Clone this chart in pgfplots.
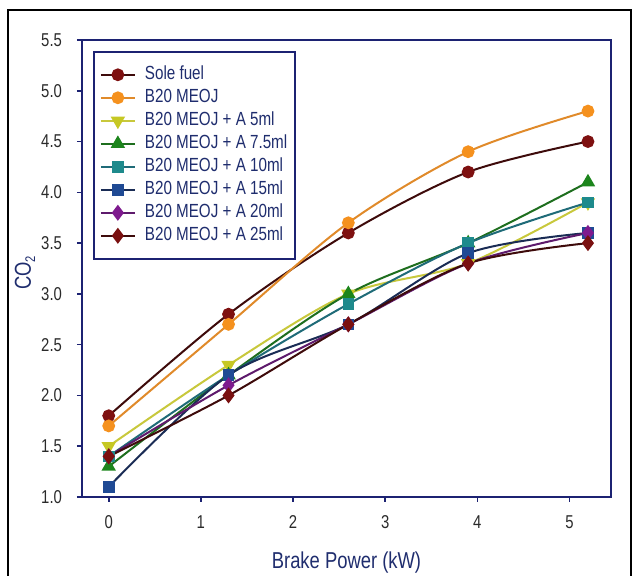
\documentclass[border=0pt]{standalone}
\usepackage{pgfplots}
\pgfplotsset{compat=1.18}
\usepackage{fontspec}
\setmainfont{Liberation Sans}[FakeStretch=0.8]
\definecolor{navy}{HTML}{1C2272}
\definecolor{lbl}{HTML}{1F2D6E}
\definecolor{tk}{HTML}{2A2A2A}
\definecolor{c1l}{HTML}{3E0B0B}\definecolor{c1m}{HTML}{7E1010}
\definecolor{c2l}{HTML}{E08A2A}\definecolor{c2m}{HTML}{F5911E}
\definecolor{c3l}{HTML}{C8C83C}\definecolor{c3m}{HTML}{C6C824}
\definecolor{c4l}{HTML}{1E6E1E}\definecolor{c4m}{HTML}{1C851C}
\definecolor{c5l}{HTML}{1F6B78}\definecolor{c5m}{HTML}{1E8A8C}
\definecolor{c6l}{HTML}{1A2C55}\definecolor{c6m}{HTML}{1F4A94}
\definecolor{c7l}{HTML}{5E1A6C}\definecolor{c7m}{HTML}{7E1A8E}
\definecolor{c8l}{HTML}{3E0B0B}\definecolor{c8m}{HTML}{7A1010}
\begin{document}
\begin{tikzpicture}
\path[use as bounding box] (0,0) rectangle (316.5pt,288pt);
\draw[black,line width=1pt] (4pt,0) -- (4pt,283pt) -- (315.5pt,283pt) -- (315.5pt,0);
\begin{axis}[
  at={(41pt,39.5pt)}, anchor=south west,
  width=264.5pt, height=228.5pt, scale only axis,
  xmin=-0.29, xmax=5.45, ymin=1, ymax=5.5,
  xtick={0,1,2,3,4,5}, ytick={1,1.5,2,2.5,3,3.5,4,4.5,5,5.5},
  xtick pos=bottom, ytick pos=left,
  tick align=outside, major tick length=2.5pt,
  axis line style={navy,line width=0.9pt},
  every tick/.style={navy,line width=0.8pt},
  /pgf/number format/assume math mode=true,
  yticklabel style={/pgf/number format/fixed,/pgf/number format/fixed zerofill,/pgf/number format/precision=1},
  tick label style={font=\fontsize{9.3}{11}\selectfont,text=tk},
  xticklabel style={anchor=center,yshift=-10pt},
  yticklabel style={anchor=east,xshift=-4pt},
  xlabel={Brake Power (kW)},
  ylabel={CO\raisebox{-0.35ex}{\fontsize{7}{8}\selectfont 2}},
  every axis x label/.style={at={(axis description cs:0.5,0)},anchor=center,yshift=-33pt,font=\fontsize{11.5}{13}\selectfont,text=lbl},
  every axis y label/.style={at={(axis description cs:-0.1077,0.49)},anchor=center,rotate=90,font=\fontsize{11.5}{13}\selectfont,text=lbl},
  legend style={at={(axis description cs:0.0208,0.976)},anchor=north west,
    draw=navy,line width=0.8pt,fill=white,inner xsep=3pt,inner ysep=6.5pt,
    font=\fontsize{9.5}{11}\selectfont,text=lbl,row sep=1.5pt,column sep=3.5pt,
    nodes={inner sep=1pt,text height=6.5pt,text depth=1.5pt}},
  legend cell align=left,
  every axis plot/.append style={line width=1pt,smooth},
]
\addplot[c1l,mark=*,mark size=2.7pt,mark options={fill=c1m,draw=c1m}] coordinates {(0,1.8)(1.3,2.8)(2.6,3.6)(3.9,4.2)(5.2,4.5)};
\addlegendentry{Sole fuel}
\addplot[c2l,mark=*,mark size=2.7pt,mark options={fill=c2m,draw=c2m}] coordinates {(0,1.7)(1.3,2.7)(2.6,3.7)(3.9,4.4)(5.2,4.8)};
\addlegendentry{B20 MEOJ}
\addplot[c3l,mark=triangle*,mark size=3.2pt,mark options={fill=c3m,draw=c3m,rotate=180}] coordinates {(0,1.5)(1.3,2.3)(2.6,3.0)(3.9,3.3)(5.2,3.9)};
\addlegendentry{B20 MEOJ + A 5ml}
\addplot[c4l,mark=triangle*,mark size=3.2pt,mark options={fill=c4m,draw=c4m}] coordinates {(0,1.3)(1.3,2.2)(2.6,3.0)(3.9,3.5)(5.2,4.1)};
\addlegendentry{B20 MEOJ + A 7.5ml}
\addplot[c5l,mark=square*,mark size=2.4pt,mark options={fill=c5m,draw=c5m}] coordinates {(0,1.4)(1.3,2.2)(2.6,2.9)(3.9,3.5)(5.2,3.9)};
\addlegendentry{B20 MEOJ + A 10ml}
\addplot[c6l,mark=square*,mark size=2.4pt,mark options={fill=c6m,draw=c6m}] coordinates {(0,1.1)(1.3,2.2)(2.6,2.7)(3.9,3.4)(5.2,3.6)};
\addlegendentry{B20 MEOJ + A 15ml}
\addplot[c7l,mark=diamond*,mark size=3.2pt,mark options={fill=c7m,draw=c7m}] coordinates {(0,1.4)(1.3,2.1)(2.6,2.7)(3.9,3.3)(5.2,3.6)};
\addlegendentry{B20 MEOJ + A 20ml}
\addplot[c8l,mark=diamond*,mark size=3.2pt,mark options={fill=c8m,draw=c8m}] coordinates {(0,1.4)(1.3,2.0)(2.6,2.7)(3.9,3.3)(5.2,3.5)};
\addlegendentry{B20 MEOJ + A 25ml}
\end{axis}
\end{tikzpicture}
\end{document}
